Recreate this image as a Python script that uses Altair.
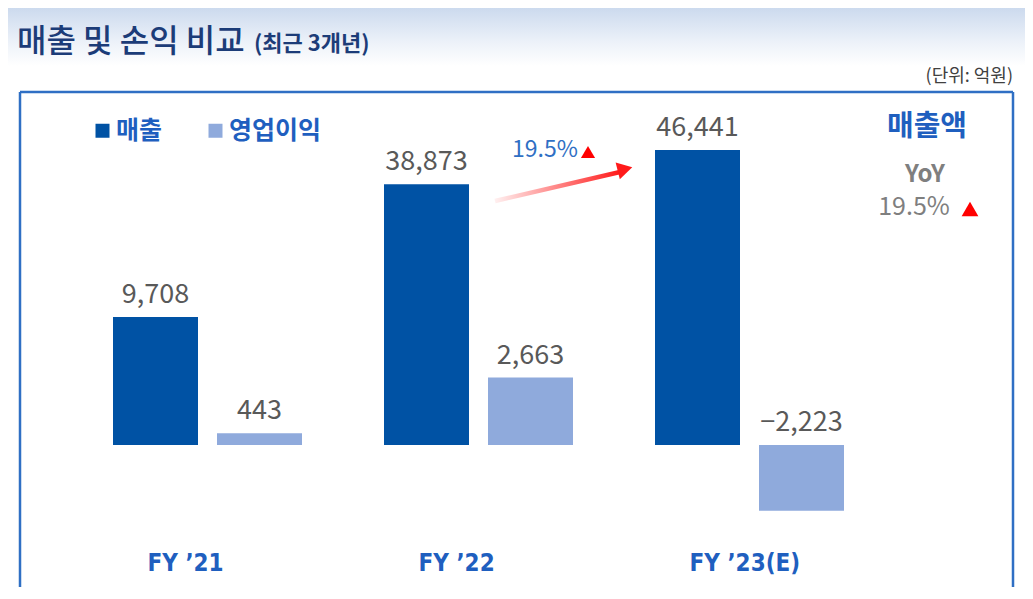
import altair as alt
import pandas as pd

# ---- data ----
years = ["FY ’21", "FY ’22", "FY ’23(E)"]
sales = [9708, 38873, 46441]
op_profit = [443, 2663, -2223]
series_names = ["매출", "영업이익"]
series_colors = ["#0052A4", "#8FAADC"]
yoy_text = "19.5%"
title_main = "매출 및 손익 비교"
title_sub = "(최근 3개년)"
unit_text = "(단위: 억원)"
side_title = "매출액"
side_yoy = "YoY"

rows = []
for i, yr in enumerate(years):
    rows.append({"year": yr, "series": series_names[0], "value": sales[i]})
    rows.append({"year": yr, "series": series_names[1], "value": op_profit[i]})
df = pd.DataFrame(rows)
one = pd.DataFrame({"k": [0]})

W, H = 993, 495
FONT = "Noto Sans CJK KR"
BLUE_TXT = "#1F5FBF"

x_scale = alt.Scale(domain=years, range=[93, 824], paddingInner=0.3026, paddingOuter=0)
xo_scale = alt.Scale(domain=series_names, paddingInner=0.1827, paddingOuter=0)
# broken (piecewise) value axis, as in the reference
y_scale = alt.Scale(type="linear", domain=[-2500, 0, 2500, 10000, 50000],
                    range=[427, 353, 287, 222.5, 42], nice=False, zero=False, clamp=False)

X = alt.X("year:N", scale=x_scale, axis=None, sort=years)
XO = alt.XOffset("series:N", scale=xo_scale, sort=series_names)

bars = alt.Chart(df).mark_bar(strokeWidth=0).encode(
    x=X, xOffset=XO,
    y=alt.Y("value:Q", scale=y_scale, axis=None),
    y2=alt.datum(0),
    color=alt.Color("series:N", sort=series_names,
                    scale=alt.Scale(domain=series_names, range=series_colors),
                    legend=alt.Legend(orient="none", legendX=70, legendY=26, direction="horizontal",
                                      title=None, symbolType="square", symbolSize=196,
                                      symbolStrokeWidth=0, labelFontSize=25, labelFont=FONT,
                                      labelFontWeight="bold", labelColor=BLUE_TXT,
                                      columnPadding=40, labelOffset=1, padding=0)),
)

values = alt.Chart(df).transform_calculate(
    ly="max(datum.value, 0)", txt="format(datum.value, ',')"
).mark_text(font=FONT, fontSize=27, color="#595959", baseline="alphabetic", dy=-14).encode(
    x=X, xOffset=XO,
    y=alt.Y("ly:Q", scale=y_scale, axis=None),
    text="txt:N",
)

xlabels = alt.Chart(pd.DataFrame({"year": years})).mark_text(
    font="DejaVu Sans Condensed", fontSize=24, fontWeight="bold", color=BLUE_TXT,
    baseline="middle", align="left", dx=-60
).encode(x=X, y=alt.value(472), text="year:N")

# frame (top, left, right)
frame_top = alt.Chart(one).mark_rule(color="#2F6FC4", strokeWidth=2.5).encode(
    x=alt.value(0), x2=alt.value(W), y=alt.value(0))
frame_left = alt.Chart(one).mark_rule(color="#2F6FC4", strokeWidth=2.5).encode(
    x=alt.value(0), y=alt.value(0), y2=alt.value(H + 10))
frame_right = alt.Chart(one).mark_rule(color="#2F6FC4", strokeWidth=2.5).encode(
    x=alt.value(W), y=alt.value(0), y2=alt.value(H + 10))

band = alt.Chart(one).mark_rect(
    fill=alt.Gradient(gradient="linear", x1=0, y1=0, x2=0, y2=1,
                      stops=[alt.GradientStop(offset=0, color="#CCDAEE"),
                             alt.GradientStop(offset=0.6, color="#EDF2F9"),
                             alt.GradientStop(offset=1, color="#FFFFFF")])
).encode(x=alt.value(-13), x2=alt.value(W + 12), y=alt.value(-84), y2=alt.value(-26))

t_main = alt.Chart(one).mark_text(font=FONT, fontSize=32, fontWeight=500, color="#1C3C78",
                                  align="left", baseline="middle").encode(
    x=alt.value(-3), y=alt.value(-50), text=alt.value(title_main))
t_sub = alt.Chart(one).mark_text(font=FONT, fontSize=22, fontWeight="bold", color="#1C3C78",
                                 align="left", baseline="middle").encode(
    x=alt.value(234), y=alt.value(-48), text=alt.value(title_sub))
t_unit = alt.Chart(one).mark_text(font=FONT, fontSize=18, color="#404040",
                                  align="right", baseline="middle").encode(
    x=alt.value(W), y=alt.value(-15), text=alt.value(unit_text))

s_title = alt.Chart(one).mark_text(font=FONT, fontSize=29, fontWeight="bold", color=BLUE_TXT,
                                   align="center", baseline="middle").encode(
    x=alt.value(907), y=alt.value(35), text=alt.value(side_title))
s_yoy = alt.Chart(one).mark_text(font=FONT, fontSize=24, fontWeight="bold", color="#7F7F7F",
                                 align="center", baseline="middle").encode(
    x=alt.value(905), y=alt.value(83), text=alt.value(side_yoy))
s_pct = alt.Chart(one).mark_text(font=FONT, fontSize=25, color="#7F7F7F",
                                 align="center", baseline="middle").encode(
    x=alt.value(894), y=alt.value(115), text=alt.value(yoy_text))
s_tri = alt.Chart(one).mark_point(shape="triangle-up", filled=True, color="#FF0000",
                                  size=280, opacity=1).encode(
    x=alt.value(950), y=alt.value(117))

a_pct = alt.Chart(one).mark_text(font=FONT, fontSize=23, color="#2F6FC4",
                                 align="center", baseline="middle").encode(
    x=alt.value(525), y=alt.value(58), text=alt.value(yoy_text))
a_tri = alt.Chart(one).mark_point(shape="triangle-up", filled=True, color="#FF0000",
                                  size=200, opacity=1).encode(
    x=alt.value(568), y=alt.value(60))
arrow_line = alt.Chart(one).mark_rule(
    strokeWidth=4.5,
    stroke=alt.Gradient(gradient="linear", x1=0, y1=0, x2=1, y2=0,
                        stops=[alt.GradientStop(offset=0, color="#FFF0F0"),
                               alt.GradientStop(offset=1, color="#FF1A1A")])
).encode(x=alt.value(475), y=alt.value(109), x2=alt.value(600), y2=alt.value(80))
arrow_head = alt.Chart(one).mark_point(shape="triangle-right", filled=True, color="#FF1A1A",
                                       size=300, opacity=1, angle=346).encode(
    x=alt.value(605), y=alt.value(77))

chart = alt.layer(
    band, t_main, t_sub, t_unit,
    frame_top, frame_left, frame_right,
    bars, values, xlabels,
    s_title, s_yoy, s_pct, s_tri,
    arrow_line, arrow_head, a_pct, a_tri,
).properties(
    width=W, height=H,
    autosize=alt.AutoSizeParams(type="none"),
    padding={"left": 12, "top": 84, "right": 12, "bottom": 0},
).configure_view(stroke=None).configure(background="white")

chart.save("out.html", embed_options={"renderer": "svg", "actions": False})
